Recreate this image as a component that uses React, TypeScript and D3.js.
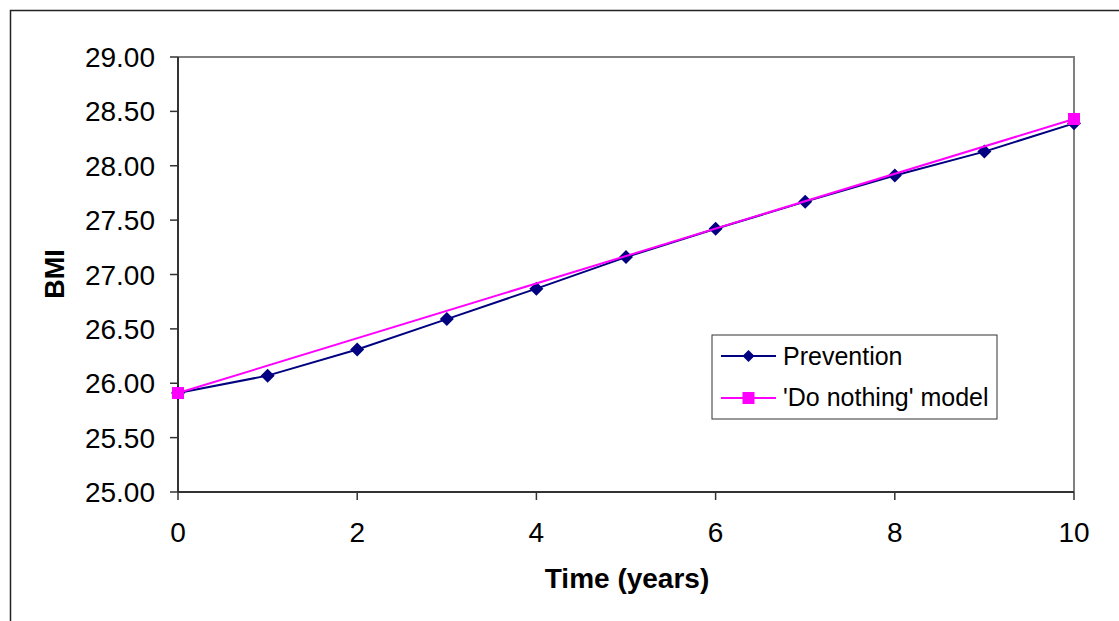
import React from "react";
import * as d3 from "d3";

const years = [0, 1, 2, 3, 4, 5, 6, 7, 8, 9, 10];
const prevention = [25.91, 26.07, 26.31, 26.59, 26.87, 27.16, 27.42, 27.67, 27.91, 28.13, 28.39];
const doNothingYears = [0, 10];
const doNothing = [25.91, 28.43];
const yTicks = [25, 25.5, 26, 26.5, 27, 27.5, 28, 28.5, 29];
const xTicks = [0, 2, 4, 6, 8, 10];
const seriesNames = ["Prevention", "'Do nothing' model"];

const W = 1119, H = 621;
const L = 178, R = 1074, T = 57, B = 492;
const font = "'Liberation Sans', Arial, sans-serif";
const navy = "#000080";
const magenta = "#FF00FF";

export default function App() {
  const x = d3.scaleLinear().domain([0, 10]).range([L, R]);
  const y = d3.scaleLinear().domain([25, 29]).range([B, T]);
  const line = d3.line<[number, number]>().x(d => x(d[0])).y(d => y(d[1]));
  const prevPts: [number, number][] = years.map((t, i) => [t, prevention[i]]);
  const dnPts: [number, number][] = doNothingYears.map((t, i) => [t, doNothing[i]]);
  const diamond = (cx: number, cy: number, r: number) =>
    `M${cx},${cy - r}L${cx + r},${cy}L${cx},${cy + r}L${cx - r},${cy}Z`;

  return (
    <svg width={W} height={H} style={{ position: "absolute", left: 0, top: 0 }}>
      <rect x={0} y={0} width={W} height={H} fill="#fff" />
      {/* outer border */}
      <path d={`M10.5,${H}V10.5H${W}`} fill="none" stroke="#222" strokeWidth={1.5} />
      {/* plot frame top/right */}
      <path d={`M${L},${T}H${R}V${B}`} fill="none" stroke="#808080" strokeWidth={2} />
      {/* axes */}
      <line x1={L} y1={T} x2={L} y2={B} stroke="#333" strokeWidth={2} />
      <line x1={L} y1={B} x2={R} y2={B} stroke="#333" strokeWidth={2} />
      {yTicks.map(v => (
        <g key={v}>
          <line x1={L - 8} x2={L} y1={y(v)} y2={y(v)} stroke="#333" strokeWidth={1.5} />
          <text x={L - 23} y={y(v) + 10} textAnchor="end" fontFamily={font} fontSize={28} fill="#000">
            {v.toFixed(2)}
          </text>
        </g>
      ))}
      {xTicks.map(v => (
        <g key={v}>
          <line x1={x(v)} x2={x(v)} y1={B} y2={B + 8} stroke="#333" strokeWidth={1.5} />
          <text x={x(v)} y={B + 50} textAnchor="middle" fontFamily={font} fontSize={28} fill="#000">
            {v}
          </text>
        </g>
      ))}
      <text x={627} y={588} textAnchor="middle" fontFamily={font} fontWeight="bold" fontSize={28} fill="#000">
        Time (years)
      </text>
      <text transform="translate(64,274) rotate(-90)" textAnchor="middle" fontFamily={font} fontWeight="bold" fontSize={27} fill="#000">
        BMI
      </text>
      {/* series */}
      <path d={line(prevPts) || ""} fill="none" stroke={navy} strokeWidth={2} />
      {prevPts.map((p, i) => (
        <path key={i} d={diamond(x(p[0]), y(p[1]), 7)} fill={navy} />
      ))}
      <path d={line(dnPts) || ""} fill="none" stroke={magenta} strokeWidth={2} />
      {dnPts.map((p, i) => (
        <rect key={i} x={x(p[0]) - 6} y={y(p[1]) - 6} width={12} height={12} fill={magenta} />
      ))}
      {/* legend */}
      <rect x={712} y={335} width={285} height={84} fill="#fff" stroke="#333" strokeWidth={1} />
      <line x1={721} x2={776} y1={356} y2={356} stroke={navy} strokeWidth={2} />
      <path d={diamond(748.5, 356, 6)} fill={navy} />
      <text x={783} y={365} fontFamily={font} fontSize={25} fill="#000">{seriesNames[0]}</text>
      <line x1={721} x2={776} y1={398} y2={398} stroke={magenta} strokeWidth={2} />
      <rect x={742.5} y={392} width={12} height={12} fill={magenta} />
      <text x={783} y={406} fontFamily={font} fontSize={25} fill="#000">{seriesNames[1]}</text>
    </svg>
  );
}
